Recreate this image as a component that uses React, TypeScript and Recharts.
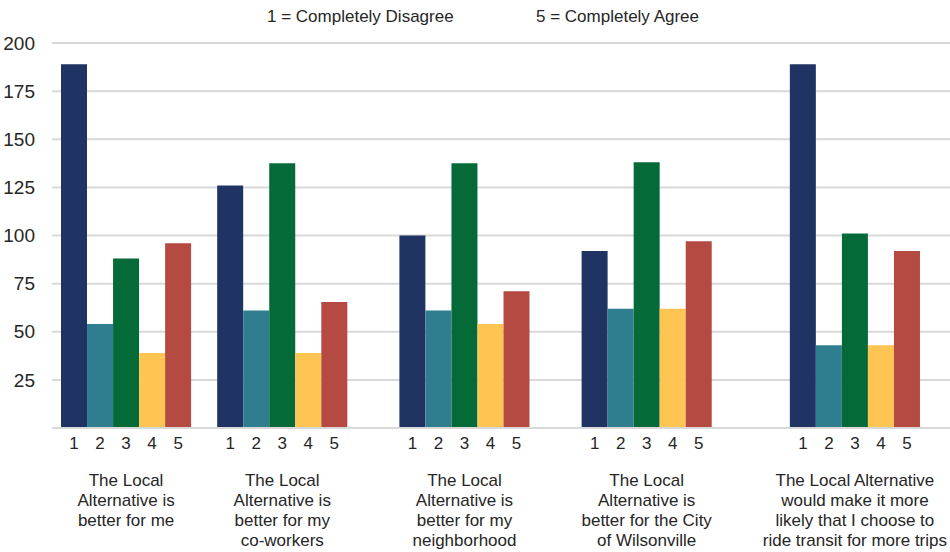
import { BarChart, Bar, XAxis, YAxis, CartesianGrid, Cell } from 'recharts';

const groupLabels = [
  ['The Local', 'Alternative is', 'better for me'],
  ['The Local', 'Alternative is', 'better for my', 'co-workers'],
  ['The Local', 'Alternative is', 'better for my', 'neighborhood'],
  ['The Local', 'Alternative is', 'better for the City', 'of Wilsonville'],
  ['The Local Alternative', 'would make it more', 'likely that I choose to', 'ride transit for more trips'],
];

const ratings = ['1', '2', '3', '4', '5'];

// counts per rating, one value per statement
const rating1 = [189, 126, 100, 92, 189];
const rating2 = [54, 61, 61, 62, 43];
const rating3 = [88, 137.5, 137.5, 138, 101];
const rating4 = [39, 39, 54, 62, 43];
const rating5 = [96, 65.5, 71, 97, 92];

const yTicks = [25, 50, 75, 100, 125, 150, 175, 200];

const ratingColors = ['#1F3462', '#2E7E90', '#046B38', '#FFC553', '#B54A43'];
const FONT = '"Liberation Sans", Arial, sans-serif';

// empty slots between statement groups
const gapsAfter = [1, 2, 2, 3];

type Row = { key: string; value: number | null; rating: number; group: number };

const series = [rating1, rating2, rating3, rating4, rating5];
const rows: Row[] = [];
groupLabels.forEach((_, g) => {
  ratings.forEach((r, i) => {
    rows.push({ key: `g${g}-r${r}`, value: series[i][g], rating: i, group: g });
  });
  const gaps = gapsAfter[g] || 0;
  for (let s = 0; s < gaps; s++) {
    rows.push({ key: `gap${g}-${s}`, value: null, rating: -1, group: g });
  }
});
const rowByKey: Record<string, Row> = {};
rows.forEach((r) => (rowByKey[r.key] = r));

function GroupTick(props: any) {
  const { x, y, payload } = props;
  const row = rowByKey[payload.value];
  if (!row || row.rating < 0) return null;
  const lines = groupLabels[row.group];
  return (
    <g>
      <text x={x} y={y + 13} textAnchor="middle" fontSize={17} fill="#262626" fontFamily={FONT}>
        {ratings[row.rating]}
      </text>
      {row.rating === 2 && (
        <text x={x} y={y + 50} textAnchor="middle" fontSize={17} fill="#262626" fontFamily={FONT}>
          {lines.map((l, i) => (
            <tspan key={i} x={x} dy={i === 0 ? 0 : 20}>
              {l}
            </tspan>
          ))}
        </text>
      )}
    </g>
  );
}

export default function App() {
  return (
    <div style={{ position: 'absolute', left: 0, top: 0, width: 950, height: 552, background: '#fff', fontFamily: FONT }}>
      <div style={{ position: 'absolute', left: 267, top: 8, fontSize: 17, lineHeight: '17px', color: '#262626' }}>
        1 = Completely Disagree
      </div>
      <div style={{ position: 'absolute', left: 536, top: 8, fontSize: 17, lineHeight: '17px', color: '#262626' }}>
        5 = Completely Agree
      </div>
      <BarChart
        width={950}
        height={552}
        data={rows}
        margin={{ top: 43, right: 0, bottom: 0, left: 0 }}
        barCategoryGap={0}
        barGap={0}
      >
        <CartesianGrid vertical={false} stroke="#D9D9D9" strokeWidth={2} />
        <XAxis
          dataKey="key"
          interval={0}
          height={124}
          tickLine={false}
          axisLine={{ stroke: '#D9D9D9', strokeWidth: 2 }}
          padding={{ left: 9, right: 30 }}
          tick={<GroupTick />}
        />
        <YAxis
          width={52}
          domain={[0, 200]}
          ticks={yTicks}
          axisLine={false}
          tickLine={false}
          tickSize={0}
          tickMargin={17}
          tick={{ fontSize: 19, fill: '#262626', fontFamily: FONT }}
        />
        <Bar dataKey="value" isAnimationActive={false}>
          {rows.map((r) => (
            <Cell key={r.key} fill={r.rating >= 0 ? ratingColors[r.rating] : 'none'} />
          ))}
        </Bar>
      </BarChart>
    </div>
  );
}
